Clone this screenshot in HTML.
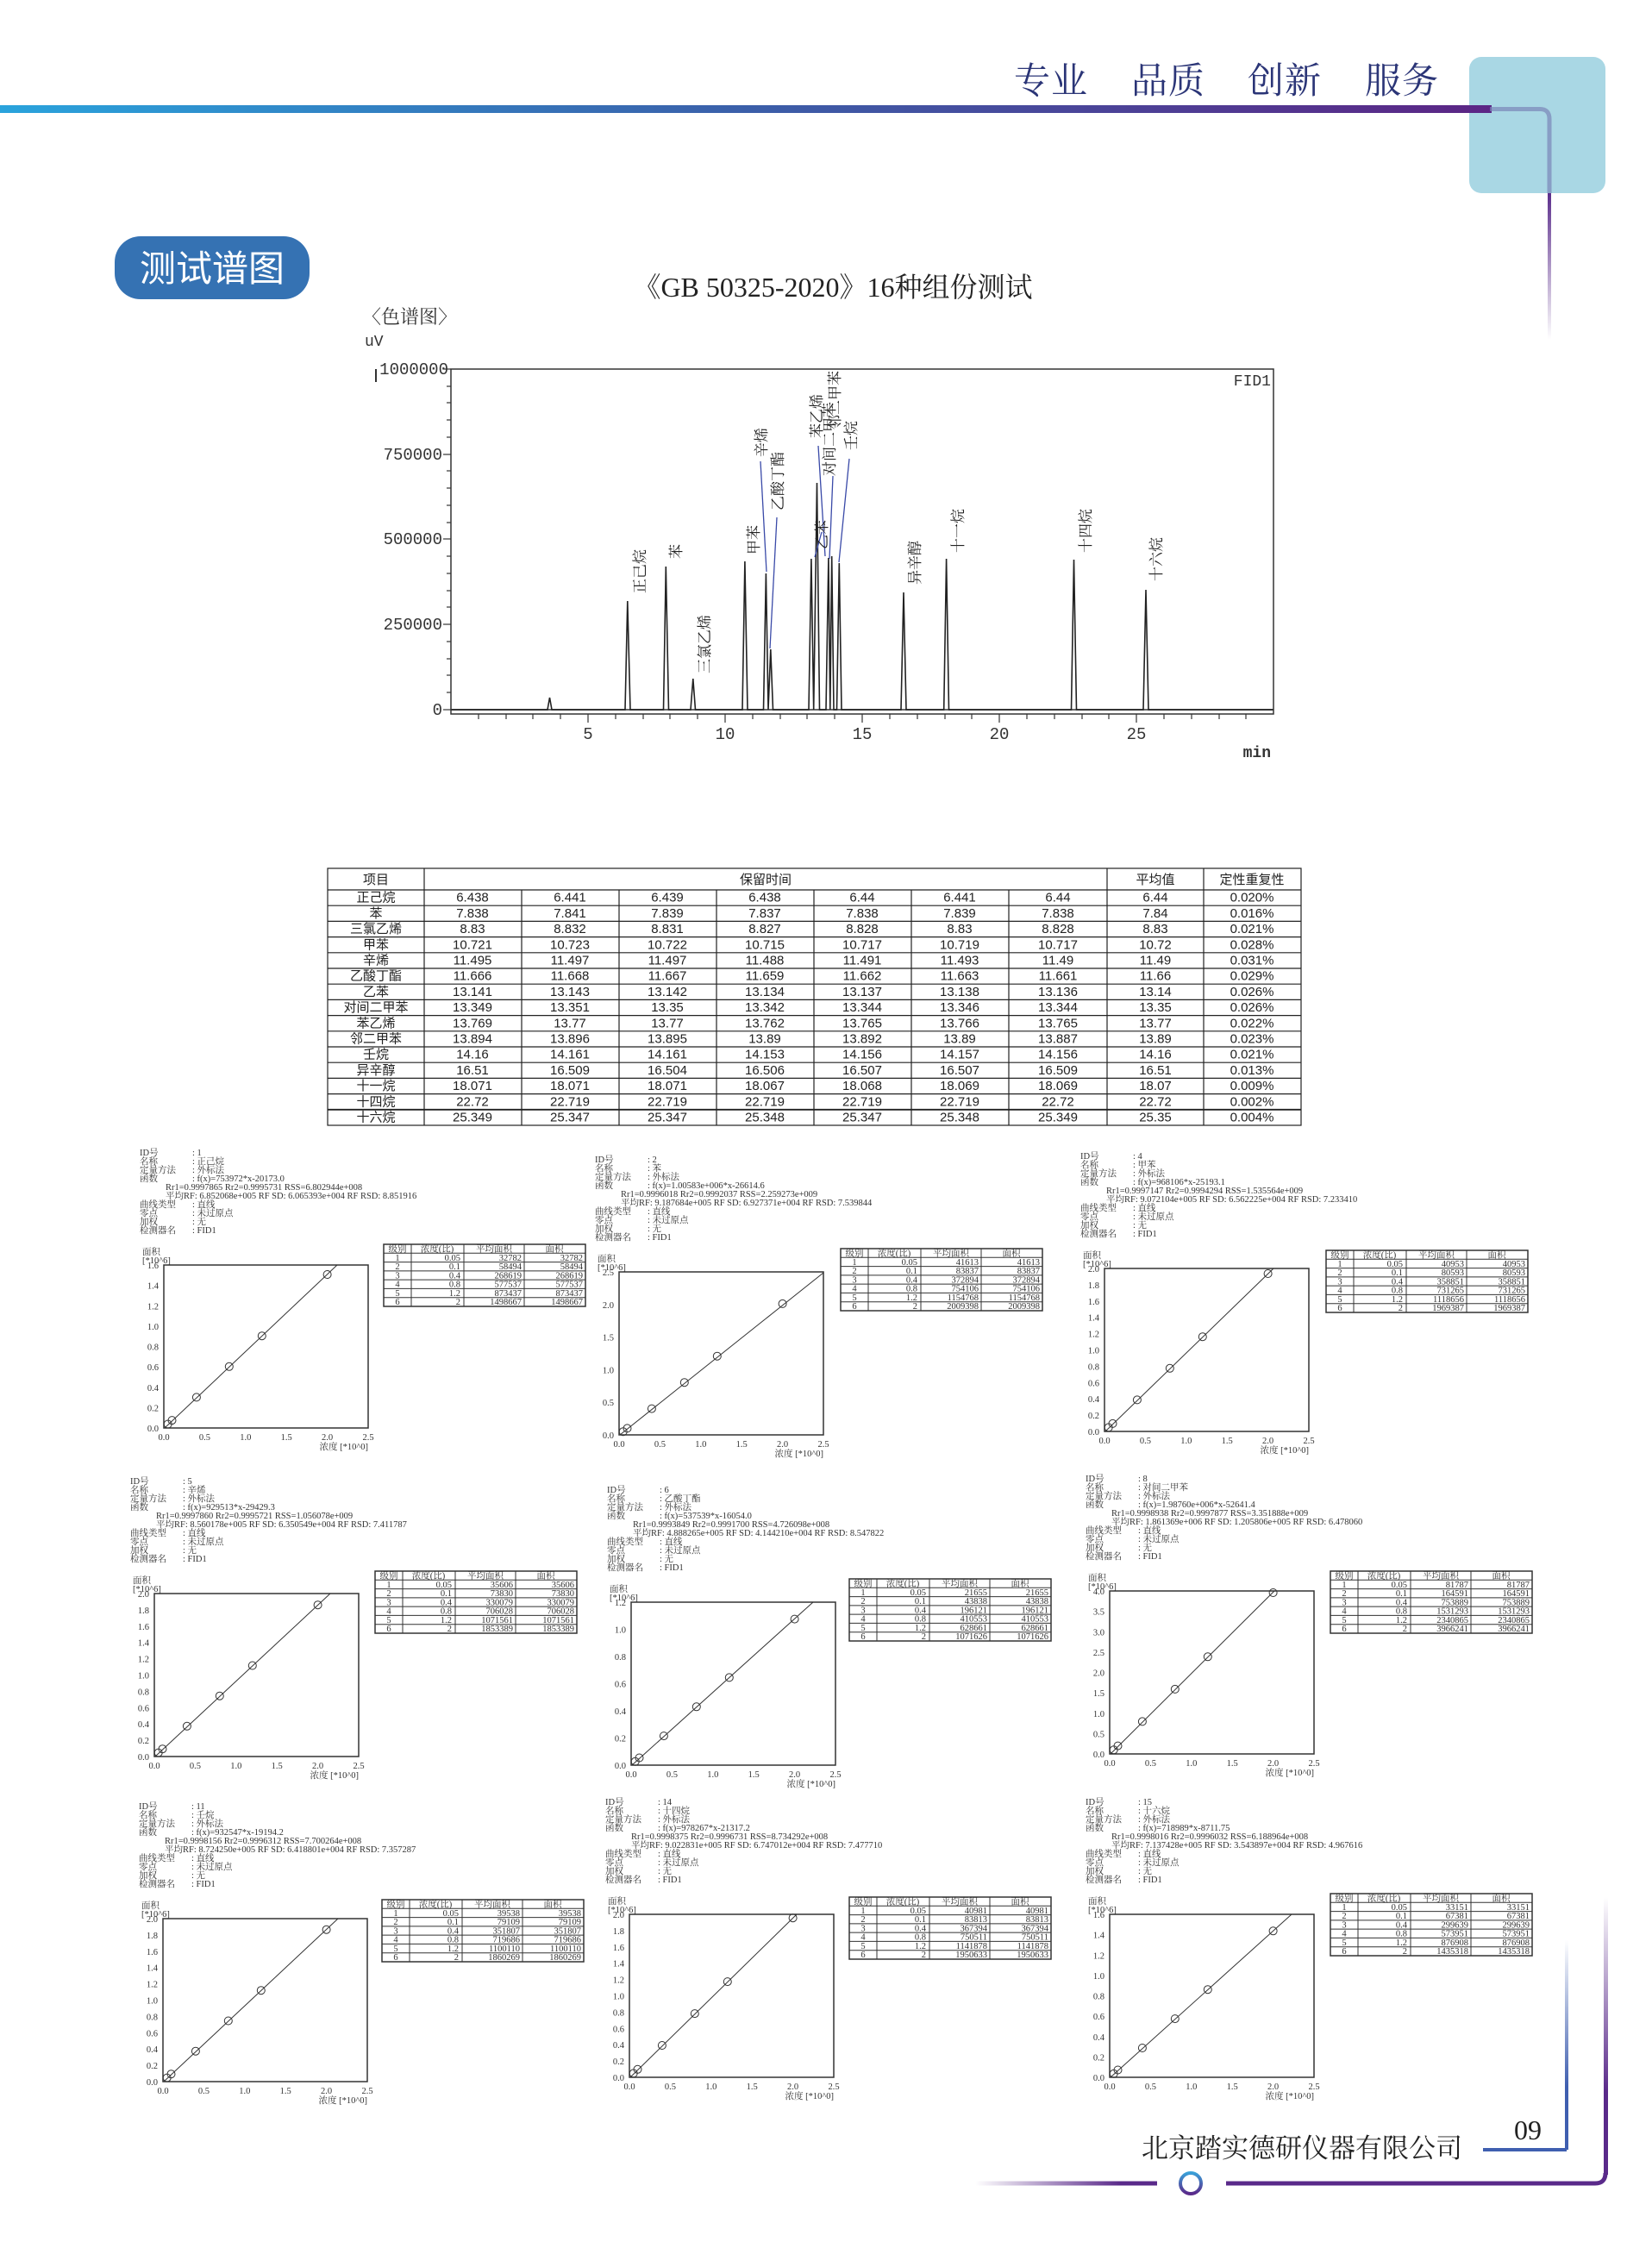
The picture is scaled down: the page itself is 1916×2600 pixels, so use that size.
<!DOCTYPE html>
<html><head><meta charset="utf-8"><style>
html,body{margin:0;padding:0;background:#fff;}
svg{display:block;}
.cj{font-family:"Liberation Serif","Noto Serif CJK SC",serif;}
.mono{font-family:"Liberation Mono","Noto Sans CJK SC",monospace;}
.pt{font-family:"Liberation Serif","Noto Serif CJK SC",serif;font-size:10.5px;fill:#333;}
.tb{font-family:"Liberation Sans","Noto Sans CJK SC",sans-serif;font-size:15px;fill:#222;}
</style></head><body>
<svg width="1916" height="2600" viewBox="0 0 1916 2600" xmlns="http://www.w3.org/2000/svg">
<defs>
<linearGradient id="hg" x1="0" x2="1" y1="0" y2="0">
<stop offset="0" stop-color="#2aa3dc"/><stop offset="0.5" stop-color="#3b5fa9"/><stop offset="1" stop-color="#5c2585"/></linearGradient>
<linearGradient id="vf" x1="0" x2="0" y1="0" y2="1"><stop offset="0" stop-color="#5c2f8c"/><stop offset="1" stop-color="#5c2f8c" stop-opacity="0"/></linearGradient>
<linearGradient id="vu" x1="0" x2="0" y1="1" y2="0"><stop offset="0.3" stop-color="#5a2a8a"/><stop offset="1" stop-color="#5a2a8a" stop-opacity="0"/></linearGradient>
<linearGradient id="vb" x1="0" x2="0" y1="1" y2="0"><stop offset="0.3" stop-color="#3f5fb0"/><stop offset="1" stop-color="#3f5fb0" stop-opacity="0"/></linearGradient>
<linearGradient id="lf" x1="0" x2="1" y1="0" y2="0"><stop offset="0" stop-color="#5a2a8a" stop-opacity="0"/><stop offset="0.8" stop-color="#5a2a8a"/></linearGradient>
<linearGradient id="cg" x1="0" x2="0" y1="0" y2="1"><stop offset="0" stop-color="#3aa0d8"/><stop offset="1" stop-color="#5a2a8a"/></linearGradient>
</defs>

<!-- header -->
<rect x="1704" y="66" width="158" height="158" rx="14" fill="#a9d7e4"/>
<rect x="0" y="122" width="1730" height="9" fill="url(#hg)"/>
<path d="M1728,126.5 H1786 Q1797,126.5 1797,138 V224" stroke="#7a86b8" stroke-width="5" fill="none" opacity="0.7"/>
<rect x="1795" y="224" width="4" height="170" fill="url(#vf)"/>
<text x="1176" y="108" class="cj" font-size="42" fill="#2b3577" letter-spacing="1">专业</text>
<text x="1312" y="108" class="cj" font-size="42" fill="#2b3577" letter-spacing="1">品质</text>
<text x="1447" y="108" class="cj" font-size="42" fill="#2b3577" letter-spacing="1">创新</text>
<text x="1583" y="108" class="cj" font-size="42" fill="#2b3577" letter-spacing="1">服务</text>

<rect x="133" y="274" width="226" height="73" rx="30" fill="#3572b3"/>
<text x="246" y="326" text-anchor="middle" font-family="Liberation Sans,Noto Sans CJK SC,sans-serif" font-size="42" fill="#fff">测试谱图</text>

<text x="966" y="344" text-anchor="middle" class="cj" font-size="32" fill="#222">《GB 50325-2020》16种组份测试</text>
<text x="420" y="375" class="cj" font-size="22" fill="#333">〈色谱图〉</text>
<text x="423" y="401" class="mono" font-size="18" fill="#333">uV</text>

<!-- chromatogram -->
<g stroke="#333" fill="none">
<rect x="523" y="428" width="954" height="400" stroke-width="1.5"/>
<line x1="523" y1="823" x2="1477" y2="823" stroke="#666" stroke-width="2"/>
<line x1="436" y1="428" x2="436" y2="443" stroke-width="2"/>
</g>
<g stroke="#333" stroke-width="1.2">
<line x1="514" y1="428" x2="523" y2="428"/><line x1="518" y1="448" x2="523" y2="448"/><line x1="518" y1="467" x2="523" y2="467"/><line x1="518" y1="487" x2="523" y2="487"/><line x1="518" y1="507" x2="523" y2="507"/><line x1="514" y1="527" x2="523" y2="527"/><line x1="518" y1="546" x2="523" y2="546"/><line x1="518" y1="566" x2="523" y2="566"/><line x1="518" y1="586" x2="523" y2="586"/><line x1="514" y1="625" x2="523" y2="625"/><line x1="518" y1="645" x2="523" y2="645"/><line x1="518" y1="665" x2="523" y2="665"/><line x1="518" y1="685" x2="523" y2="685"/><line x1="518" y1="704" x2="523" y2="704"/><line x1="514" y1="724" x2="523" y2="724"/><line x1="518" y1="744" x2="523" y2="744"/><line x1="518" y1="764" x2="523" y2="764"/><line x1="518" y1="783" x2="523" y2="783"/><line x1="518" y1="803" x2="523" y2="803"/><line x1="514" y1="823" x2="523" y2="823"/><line x1="518" y1="606" x2="523" y2="606"/>
</g>
<g stroke="#333" stroke-width="1.2">
<line x1="555" y1="828" x2="555" y2="834"/><line x1="587" y1="828" x2="587" y2="834"/><line x1="618" y1="828" x2="618" y2="834"/><line x1="650" y1="828" x2="650" y2="834"/><line x1="682" y1="828" x2="682" y2="838"/><line x1="714" y1="828" x2="714" y2="834"/><line x1="746" y1="828" x2="746" y2="834"/><line x1="777" y1="828" x2="777" y2="834"/><line x1="809" y1="828" x2="809" y2="834"/><line x1="841" y1="828" x2="841" y2="838"/><line x1="873" y1="828" x2="873" y2="834"/><line x1="905" y1="828" x2="905" y2="834"/><line x1="936" y1="828" x2="936" y2="834"/><line x1="968" y1="828" x2="968" y2="834"/><line x1="1000" y1="828" x2="1000" y2="838"/><line x1="1032" y1="828" x2="1032" y2="834"/><line x1="1064" y1="828" x2="1064" y2="834"/><line x1="1096" y1="828" x2="1096" y2="834"/><line x1="1127" y1="828" x2="1127" y2="834"/><line x1="1159" y1="828" x2="1159" y2="838"/><line x1="1191" y1="828" x2="1191" y2="834"/><line x1="1223" y1="828" x2="1223" y2="834"/><line x1="1255" y1="828" x2="1255" y2="834"/><line x1="1286" y1="828" x2="1286" y2="834"/><line x1="1318" y1="828" x2="1318" y2="838"/><line x1="1350" y1="828" x2="1350" y2="834"/><line x1="1382" y1="828" x2="1382" y2="834"/><line x1="1414" y1="828" x2="1414" y2="834"/><line x1="1445" y1="828" x2="1445" y2="834"/>
</g>
<g class="mono" font-size="19" fill="#333" text-anchor="end">
<text x="520" y="434">1000000</text><text x="513" y="533">750000</text><text x="513" y="631">500000</text><text x="513" y="730">250000</text><text x="513" y="829">0</text>
</g>
<g class="mono" font-size="19" fill="#333" text-anchor="middle">
<text x="682" y="857">5</text><text x="841" y="857">10</text><text x="1000" y="857">15</text><text x="1159" y="857">20</text><text x="1318" y="857">25</text>
</g>
<text x="1474" y="878" text-anchor="end" class="mono" font-size="18" font-weight="bold" fill="#333">min</text>
<text x="1474" y="447" text-anchor="end" class="mono" font-size="18" fill="#333">FID1</text>
<g fill="none" stroke="#222" stroke-width="1.6">
<path d="M523,823 H635 L637.5,809 L640,823 H725 L727.8,697 L731,823 H769.5 L772.3,657 L775.5,823 H801 L803.8,787 L806.5,823 H861 L863.9,651 L867,823 H885.5 L888.4,665 L891,823 L893.8,753 L896.5,823 H938 L940.9,648 L943.7,823 L947.5,560 L950.5,823 H958 L960.9,647 L962.8,823 L964.7,645 L967,823 H970.5 L973.3,653 L976,823 H1045 L1048,687 L1051,823 H1094.7 L1097.6,648 L1100.5,823 H1242.5 L1245.5,649 L1248.5,823 H1326 L1329,684 L1332,823 H1477"/>
</g>
<g stroke="#3a4aa8" stroke-width="1.3">
<line x1="882" y1="535" x2="889" y2="663"/><line x1="901" y1="600" x2="893" y2="752"/><line x1="949" y1="517" x2="957" y2="645"/><line x1="966" y1="552" x2="962" y2="648"/><line x1="985" y1="532" x2="973" y2="652"/><line x1="953" y1="617" x2="945" y2="646"/>
</g>
<g class="cj" font-size="17" fill="#222">
<text transform="translate(748,688) rotate(-90)">正己烷</text>
<text transform="translate(790,648) rotate(-90)">苯</text>
<text transform="translate(823,781) rotate(-90)">三氯乙烯</text>
<text transform="translate(880,643) rotate(-90)">甲苯</text>
<text transform="translate(889,530) rotate(-90)">辛烯</text>
<text transform="translate(908,592) rotate(-90)">乙酸丁酯</text>
<text transform="translate(959,637) rotate(-90)">乙苯</text>
<text transform="translate(953,508) rotate(-90)">苯乙烯</text>
<text transform="translate(968,552) rotate(-90)">对间二甲苯</text>
<text transform="translate(974,498) rotate(-90)">邻二甲苯</text>
<text transform="translate(993,522) rotate(-90)">壬烷</text>
<text transform="translate(1067,678) rotate(-90)">异辛醇</text>
<text transform="translate(1117,641) rotate(-90)">十一烷</text>
<text transform="translate(1265,641) rotate(-90)">十四烷</text>
<text transform="translate(1347,674) rotate(-90)">十六烷</text>
</g>

<!-- retention table -->
<g stroke="#222" stroke-width="1.2" fill="none">
<rect x="380" y="1007" width="1129" height="298"/>
<line x1="380" y1="1032" x2="1509" y2="1032"/>
<line x1="380" y1="1050.2" x2="1509" y2="1050.2"/><line x1="380" y1="1068.4" x2="1509" y2="1068.4"/><line x1="380" y1="1086.6" x2="1509" y2="1086.6"/><line x1="380" y1="1104.8" x2="1509" y2="1104.8"/><line x1="380" y1="1123" x2="1509" y2="1123"/><line x1="380" y1="1141.2" x2="1509" y2="1141.2"/><line x1="380" y1="1159.4" x2="1509" y2="1159.4"/><line x1="380" y1="1177.6" x2="1509" y2="1177.6"/><line x1="380" y1="1195.8" x2="1509" y2="1195.8"/><line x1="380" y1="1214" x2="1509" y2="1214"/><line x1="380" y1="1232.2" x2="1509" y2="1232.2"/><line x1="380" y1="1250.4" x2="1509" y2="1250.4"/><line x1="380" y1="1268.6" x2="1509" y2="1268.6"/><line x1="380" y1="1286.8" x2="1509" y2="1286.8" stroke-width="1.8"/>
<line x1="492" y1="1007" x2="492" y2="1305"/><line x1="1284" y1="1007" x2="1284" y2="1305"/><line x1="1396" y1="1007" x2="1396" y2="1305"/>
<line x1="605" y1="1032" x2="605" y2="1305"/><line x1="718" y1="1032" x2="718" y2="1305"/><line x1="831" y1="1032" x2="831" y2="1305"/><line x1="944" y1="1032" x2="944" y2="1305"/><line x1="1057" y1="1032" x2="1057" y2="1305"/><line x1="1170" y1="1032" x2="1170" y2="1305"/>
</g>
<g class="tb" text-anchor="middle">
<text x="436" y="1025">项目</text><text x="888" y="1025">保留时间</text><text x="1340" y="1025">平均值</text><text x="1452" y="1025">定性重复性</text>
</g>
<g class="tb" text-anchor="middle" font-size="14">
<text y="1045.7"><tspan x="436">正己烷</tspan><tspan x="548">6.438</tspan><tspan x="661">6.441</tspan><tspan x="774">6.439</tspan><tspan x="887">6.438</tspan><tspan x="1000">6.44</tspan><tspan x="1113">6.441</tspan><tspan x="1227">6.44</tspan><tspan x="1340">6.44</tspan><tspan x="1452">0.020%</tspan></text>
<text y="1063.9"><tspan x="436">苯</tspan><tspan x="548">7.838</tspan><tspan x="661">7.841</tspan><tspan x="774">7.839</tspan><tspan x="887">7.837</tspan><tspan x="1000">7.838</tspan><tspan x="1113">7.839</tspan><tspan x="1227">7.838</tspan><tspan x="1340">7.84</tspan><tspan x="1452">0.016%</tspan></text>
<text y="1082.1"><tspan x="436">三氯乙烯</tspan><tspan x="548">8.83</tspan><tspan x="661">8.832</tspan><tspan x="774">8.831</tspan><tspan x="887">8.827</tspan><tspan x="1000">8.828</tspan><tspan x="1113">8.83</tspan><tspan x="1227">8.828</tspan><tspan x="1340">8.83</tspan><tspan x="1452">0.021%</tspan></text>
<text y="1100.3"><tspan x="436">甲苯</tspan><tspan x="548">10.721</tspan><tspan x="661">10.723</tspan><tspan x="774">10.722</tspan><tspan x="887">10.715</tspan><tspan x="1000">10.717</tspan><tspan x="1113">10.719</tspan><tspan x="1227">10.717</tspan><tspan x="1340">10.72</tspan><tspan x="1452">0.028%</tspan></text>
<text y="1118.5"><tspan x="436">辛烯</tspan><tspan x="548">11.495</tspan><tspan x="661">11.497</tspan><tspan x="774">11.497</tspan><tspan x="887">11.488</tspan><tspan x="1000">11.491</tspan><tspan x="1113">11.493</tspan><tspan x="1227">11.49</tspan><tspan x="1340">11.49</tspan><tspan x="1452">0.031%</tspan></text>
<text y="1136.7"><tspan x="436">乙酸丁酯</tspan><tspan x="548">11.666</tspan><tspan x="661">11.668</tspan><tspan x="774">11.667</tspan><tspan x="887">11.659</tspan><tspan x="1000">11.662</tspan><tspan x="1113">11.663</tspan><tspan x="1227">11.661</tspan><tspan x="1340">11.66</tspan><tspan x="1452">0.029%</tspan></text>
<text y="1154.9"><tspan x="436">乙苯</tspan><tspan x="548">13.141</tspan><tspan x="661">13.143</tspan><tspan x="774">13.142</tspan><tspan x="887">13.134</tspan><tspan x="1000">13.137</tspan><tspan x="1113">13.138</tspan><tspan x="1227">13.136</tspan><tspan x="1340">13.14</tspan><tspan x="1452">0.026%</tspan></text>
<text y="1173.1"><tspan x="436">对间二甲苯</tspan><tspan x="548">13.349</tspan><tspan x="661">13.351</tspan><tspan x="774">13.35</tspan><tspan x="887">13.342</tspan><tspan x="1000">13.344</tspan><tspan x="1113">13.346</tspan><tspan x="1227">13.344</tspan><tspan x="1340">13.35</tspan><tspan x="1452">0.026%</tspan></text>
<text y="1191.3"><tspan x="436">苯乙烯</tspan><tspan x="548">13.769</tspan><tspan x="661">13.77</tspan><tspan x="774">13.77</tspan><tspan x="887">13.762</tspan><tspan x="1000">13.765</tspan><tspan x="1113">13.766</tspan><tspan x="1227">13.765</tspan><tspan x="1340">13.77</tspan><tspan x="1452">0.022%</tspan></text>
<text y="1209.5"><tspan x="436">邻二甲苯</tspan><tspan x="548">13.894</tspan><tspan x="661">13.896</tspan><tspan x="774">13.895</tspan><tspan x="887">13.89</tspan><tspan x="1000">13.892</tspan><tspan x="1113">13.89</tspan><tspan x="1227">13.887</tspan><tspan x="1340">13.89</tspan><tspan x="1452">0.023%</tspan></text>
<text y="1227.7"><tspan x="436">壬烷</tspan><tspan x="548">14.16</tspan><tspan x="661">14.161</tspan><tspan x="774">14.161</tspan><tspan x="887">14.153</tspan><tspan x="1000">14.156</tspan><tspan x="1113">14.157</tspan><tspan x="1227">14.156</tspan><tspan x="1340">14.16</tspan><tspan x="1452">0.021%</tspan></text>
<text y="1245.9"><tspan x="436">异辛醇</tspan><tspan x="548">16.51</tspan><tspan x="661">16.509</tspan><tspan x="774">16.504</tspan><tspan x="887">16.506</tspan><tspan x="1000">16.507</tspan><tspan x="1113">16.507</tspan><tspan x="1227">16.509</tspan><tspan x="1340">16.51</tspan><tspan x="1452">0.013%</tspan></text>
<text y="1264.1"><tspan x="436">十一烷</tspan><tspan x="548">18.071</tspan><tspan x="661">18.071</tspan><tspan x="774">18.071</tspan><tspan x="887">18.067</tspan><tspan x="1000">18.068</tspan><tspan x="1113">18.069</tspan><tspan x="1227">18.069</tspan><tspan x="1340">18.07</tspan><tspan x="1452">0.009%</tspan></text>
<text y="1282.3"><tspan x="436">十四烷</tspan><tspan x="548">22.72</tspan><tspan x="661">22.719</tspan><tspan x="774">22.719</tspan><tspan x="887">22.719</tspan><tspan x="1000">22.719</tspan><tspan x="1113">22.719</tspan><tspan x="1227">22.72</tspan><tspan x="1340">22.72</tspan><tspan x="1452">0.002%</tspan></text>
<text y="1300.5"><tspan x="436">十六烷</tspan><tspan x="548">25.349</tspan><tspan x="661">25.347</tspan><tspan x="774">25.347</tspan><tspan x="887">25.348</tspan><tspan x="1000">25.347</tspan><tspan x="1113">25.348</tspan><tspan x="1227">25.349</tspan><tspan x="1340">25.35</tspan><tspan x="1452">0.004%</tspan></text>
</g>

<!-- ============ calibration panels ============ -->
<!-- P1 -->
<g transform="translate(190,1467)">
<g class="pt"><text x="-28" y="-127">ID号</text><text x="33" y="-127">: 1</text><text x="-28" y="-117">名称</text><text x="33" y="-117">: 正己烷</text><text x="-28" y="-107">定量方法</text><text x="33" y="-107">: 外标法</text><text x="-28" y="-97">函数</text><text x="33" y="-97">: f(x)=753972*x-20173.0</text><text x="2" y="-87">Rr1=0.9997865   Rr2=0.9995731   RSS=6.802944e+008</text><text x="2" y="-77">平均RF: 6.852068e+005  RF SD: 6.065393e+004   RF RSD: 8.851916</text><text x="-28" y="-67">曲线类型</text><text x="33" y="-67">: 直线</text><text x="-28" y="-57">零点</text><text x="33" y="-57">: 未过原点</text><text x="-28" y="-47">加权</text><text x="33" y="-47">: 无</text><text x="-28" y="-37">检测器名</text><text x="33" y="-37">: FID1</text><text x="-25" y="-12">面积</text><text x="-25" y="-2">[*10^6]</text>
<g text-anchor="end"><text x="-6" y="4">1.6</text><text x="-6" y="27.6">1.4</text><text x="-6" y="51.3">1.2</text><text x="-6" y="74.9">1.0</text><text x="-6" y="98.5">0.8</text><text x="-6" y="122.1">0.6</text><text x="-6" y="145.8">0.4</text><text x="-6" y="169.4">0.2</text><text x="-6" y="193">0.0</text></g>
<g text-anchor="middle"><text x="0" y="203">0.0</text><text x="47.4" y="203">0.5</text><text x="94.8" y="203">1.0</text><text x="142.2" y="203">1.5</text><text x="189.6" y="203">2.0</text><text x="237" y="203">2.5</text></g><text x="237" y="214" text-anchor="end">浓度 [*10^0]</text></g>
<rect width="237" height="189" fill="none" stroke="#333" stroke-width="1.5"/>
<line x1="1" y1="189" x2="201" y2="0" stroke="#333"/>
<g fill="none" stroke="#333"><circle cx="4.7" cy="184.5" r="4.5"/><circle cx="9.5" cy="180.1" r="4.5"/><circle cx="37.9" cy="153.4" r="4.5"/><circle cx="75.8" cy="117.8" r="4.5"/><circle cx="113.8" cy="82.2" r="4.5"/><circle cx="189.6" cy="11" r="4.5"/></g>
<g transform="translate(255,-24)"><rect width="234" height="72" fill="none" stroke="#333" stroke-width="1.5"/><g stroke="#333" stroke-width="1"><line x1="0" y1="10.3" x2="234" y2="10.3"/><line x1="0" y1="20.6" x2="234" y2="20.6"/><line x1="0" y1="30.9" x2="234" y2="30.9"/><line x1="0" y1="41.1" x2="234" y2="41.1"/><line x1="0" y1="51.4" x2="234" y2="51.4"/><line x1="0" y1="61.7" x2="234" y2="61.7"/><line x1="32" y1="0" x2="32" y2="72"/><line x1="93" y1="0" x2="93" y2="72"/><line x1="163" y1="0" x2="163" y2="72"/></g>
<g class="pt" font-size="9.5"><g text-anchor="middle"><text x="16" y="8.5">级别</text><text x="62" y="8.5">浓度(比)</text><text x="128" y="8.5">平均面积</text><text x="198" y="8.5">面积</text><text x="16" y="19">1</text><text x="16" y="29">2</text><text x="16" y="39.5">3</text><text x="16" y="49.5">4</text><text x="16" y="60">5</text><text x="16" y="70">6</text></g>
<g text-anchor="end"><text x="89" y="19">0.05</text><text x="89" y="29">0.1</text><text x="89" y="39.5">0.4</text><text x="89" y="49.5">0.8</text><text x="89" y="60">1.2</text><text x="89" y="70">2</text>
<text x="160" y="19">32782</text><text x="160" y="29">58494</text><text x="160" y="39.5">268619</text><text x="160" y="49.5">577537</text><text x="160" y="60">873437</text><text x="160" y="70">1498667</text>
<text x="231" y="19">32782</text><text x="231" y="29">58494</text><text x="231" y="39.5">268619</text><text x="231" y="49.5">577537</text><text x="231" y="60">873437</text><text x="231" y="70">1498667</text></g></g></g>
</g>

<!-- P2 -->
<g transform="translate(718,1475)">
<g class="pt"><text x="-28" y="-127">ID号</text><text x="33" y="-127">: 2</text><text x="-28" y="-117">名称</text><text x="33" y="-117">: 苯</text><text x="-28" y="-107">定量方法</text><text x="33" y="-107">: 外标法</text><text x="-28" y="-97">函数</text><text x="33" y="-97">: f(x)=1.00583e+006*x-26614.6</text><text x="2" y="-87">Rr1=0.9996018   Rr2=0.9992037   RSS=2.259273e+009</text><text x="2" y="-77">平均RF: 9.187684e+005  RF SD: 6.927371e+004   RF RSD: 7.539844</text><text x="-28" y="-67">曲线类型</text><text x="33" y="-67">: 直线</text><text x="-28" y="-57">零点</text><text x="33" y="-57">: 未过原点</text><text x="-28" y="-47">加权</text><text x="33" y="-47">: 无</text><text x="-28" y="-37">检测器名</text><text x="33" y="-37">: FID1</text><text x="-25" y="-12">面积</text><text x="-25" y="-2">[*10^6]</text>
<g text-anchor="end"><text x="-6" y="4">2.5</text><text x="-6" y="41.8">2.0</text><text x="-6" y="79.6">1.5</text><text x="-6" y="117.4">1.0</text><text x="-6" y="155.2">0.5</text><text x="-6" y="193">0.0</text></g>
<g text-anchor="middle"><text x="0" y="203">0.0</text><text x="47.4" y="203">0.5</text><text x="94.8" y="203">1.0</text><text x="142.2" y="203">1.5</text><text x="189.6" y="203">2.0</text><text x="237" y="203">2.5</text></g><text x="237" y="214" text-anchor="end">浓度 [*10^0]</text></g>
<rect width="237" height="189" fill="none" stroke="#333" stroke-width="1.5"/>
<line x1="1" y1="189" x2="237" y2="1" stroke="#333"/>
<g fill="none" stroke="#333"><circle cx="4.7" cy="185.2" r="4.5"/><circle cx="9.5" cy="181.4" r="4.5"/><circle cx="37.9" cy="158.6" r="4.5"/><circle cx="75.8" cy="128.2" r="4.5"/><circle cx="113.8" cy="97.7" r="4.5"/><circle cx="189.6" cy="36.9" r="4.5"/></g>
<g transform="translate(257,-27)"><rect width="234" height="72" fill="none" stroke="#333" stroke-width="1.5"/><g stroke="#333" stroke-width="1"><line x1="0" y1="10.3" x2="234" y2="10.3"/><line x1="0" y1="20.6" x2="234" y2="20.6"/><line x1="0" y1="30.9" x2="234" y2="30.9"/><line x1="0" y1="41.1" x2="234" y2="41.1"/><line x1="0" y1="51.4" x2="234" y2="51.4"/><line x1="0" y1="61.7" x2="234" y2="61.7"/><line x1="32" y1="0" x2="32" y2="72"/><line x1="93" y1="0" x2="93" y2="72"/><line x1="163" y1="0" x2="163" y2="72"/></g>
<g class="pt" font-size="9.5"><g text-anchor="middle"><text x="16" y="8.5">级别</text><text x="62" y="8.5">浓度(比)</text><text x="128" y="8.5">平均面积</text><text x="198" y="8.5">面积</text><text x="16" y="19">1</text><text x="16" y="29">2</text><text x="16" y="39.5">3</text><text x="16" y="49.5">4</text><text x="16" y="60">5</text><text x="16" y="70">6</text></g>
<g text-anchor="end"><text x="89" y="19">0.05</text><text x="89" y="29">0.1</text><text x="89" y="39.5">0.4</text><text x="89" y="49.5">0.8</text><text x="89" y="60">1.2</text><text x="89" y="70">2</text>
<text x="160" y="19">41613</text><text x="160" y="29">83837</text><text x="160" y="39.5">372894</text><text x="160" y="49.5">754106</text><text x="160" y="60">1154768</text><text x="160" y="70">2009398</text>
<text x="231" y="19">41613</text><text x="231" y="29">83837</text><text x="231" y="39.5">372894</text><text x="231" y="49.5">754106</text><text x="231" y="60">1154768</text><text x="231" y="70">2009398</text></g></g></g>
</g>

<!-- P3 -->
<g transform="translate(1281,1471)">
<g class="pt"><text x="-28" y="-127">ID号</text><text x="33" y="-127">: 4</text><text x="-28" y="-117">名称</text><text x="33" y="-117">: 甲苯</text><text x="-28" y="-107">定量方法</text><text x="33" y="-107">: 外标法</text><text x="-28" y="-97">函数</text><text x="33" y="-97">: f(x)=968106*x-25193.1</text><text x="2" y="-87">Rr1=0.9997147   Rr2=0.9994294   RSS=1.535564e+009</text><text x="2" y="-77">平均RF: 9.072104e+005  RF SD: 6.562225e+004   RF RSD: 7.233410</text><text x="-28" y="-67">曲线类型</text><text x="33" y="-67">: 直线</text><text x="-28" y="-57">零点</text><text x="33" y="-57">: 未过原点</text><text x="-28" y="-47">加权</text><text x="33" y="-47">: 无</text><text x="-28" y="-37">检测器名</text><text x="33" y="-37">: FID1</text><text x="-25" y="-12">面积</text><text x="-25" y="-2">[*10^6]</text>
<g text-anchor="end"><text x="-6" y="4">2.0</text><text x="-6" y="22.9">1.8</text><text x="-6" y="41.8">1.6</text><text x="-6" y="60.7">1.4</text><text x="-6" y="79.6">1.2</text><text x="-6" y="98.5">1.0</text><text x="-6" y="117.4">0.8</text><text x="-6" y="136.3">0.6</text><text x="-6" y="155.2">0.4</text><text x="-6" y="174.1">0.2</text><text x="-6" y="193">0.0</text></g>
<g text-anchor="middle"><text x="0" y="203">0.0</text><text x="47.4" y="203">0.5</text><text x="94.8" y="203">1.0</text><text x="142.2" y="203">1.5</text><text x="189.6" y="203">2.0</text><text x="237" y="203">2.5</text></g><text x="237" y="214" text-anchor="end">浓度 [*10^0]</text></g>
<rect width="237" height="189" fill="none" stroke="#333" stroke-width="1.5"/>
<line x1="1" y1="189" x2="196" y2="0" stroke="#333"/>
<g fill="none" stroke="#333"><circle cx="4.7" cy="184.4" r="4.5"/><circle cx="9.5" cy="179.9" r="4.5"/><circle cx="37.9" cy="152.4" r="4.5"/><circle cx="75.8" cy="115.8" r="4.5"/><circle cx="113.8" cy="79.2" r="4.5"/><circle cx="189.6" cy="6" r="4.5"/></g>
<g transform="translate(257,-21)"><rect width="234" height="72" fill="none" stroke="#333" stroke-width="1.5"/><g stroke="#333" stroke-width="1"><line x1="0" y1="10.3" x2="234" y2="10.3"/><line x1="0" y1="20.6" x2="234" y2="20.6"/><line x1="0" y1="30.9" x2="234" y2="30.9"/><line x1="0" y1="41.1" x2="234" y2="41.1"/><line x1="0" y1="51.4" x2="234" y2="51.4"/><line x1="0" y1="61.7" x2="234" y2="61.7"/><line x1="32" y1="0" x2="32" y2="72"/><line x1="93" y1="0" x2="93" y2="72"/><line x1="163" y1="0" x2="163" y2="72"/></g>
<g class="pt" font-size="9.5"><g text-anchor="middle"><text x="16" y="8.5">级别</text><text x="62" y="8.5">浓度(比)</text><text x="128" y="8.5">平均面积</text><text x="198" y="8.5">面积</text><text x="16" y="19">1</text><text x="16" y="29">2</text><text x="16" y="39.5">3</text><text x="16" y="49.5">4</text><text x="16" y="60">5</text><text x="16" y="70">6</text></g>
<g text-anchor="end"><text x="89" y="19">0.05</text><text x="89" y="29">0.1</text><text x="89" y="39.5">0.4</text><text x="89" y="49.5">0.8</text><text x="89" y="60">1.2</text><text x="89" y="70">2</text>
<text x="160" y="19">40953</text><text x="160" y="29">80593</text><text x="160" y="39.5">358851</text><text x="160" y="49.5">731265</text><text x="160" y="60">1118656</text><text x="160" y="70">1969387</text>
<text x="231" y="19">40953</text><text x="231" y="29">80593</text><text x="231" y="39.5">358851</text><text x="231" y="49.5">731265</text><text x="231" y="60">1118656</text><text x="231" y="70">1969387</text></g></g></g>
</g>

<!-- P4 -->
<g transform="translate(179,1848)">
<g class="pt"><text x="-28" y="-127">ID号</text><text x="33" y="-127">: 5</text><text x="-28" y="-117">名称</text><text x="33" y="-117">: 辛烯</text><text x="-28" y="-107">定量方法</text><text x="33" y="-107">: 外标法</text><text x="-28" y="-97">函数</text><text x="33" y="-97">: f(x)=929513*x-29429.3</text><text x="2" y="-87">Rr1=0.9997860   Rr2=0.9995721   RSS=1.056078e+009</text><text x="2" y="-77">平均RF: 8.560178e+005  RF SD: 6.350549e+004   RF RSD: 7.411787</text><text x="-28" y="-67">曲线类型</text><text x="33" y="-67">: 直线</text><text x="-28" y="-57">零点</text><text x="33" y="-57">: 未过原点</text><text x="-28" y="-47">加权</text><text x="33" y="-47">: 无</text><text x="-28" y="-37">检测器名</text><text x="33" y="-37">: FID1</text><text x="-25" y="-12">面积</text><text x="-25" y="-2">[*10^6]</text>
<g text-anchor="end"><text x="-6" y="4">2.0</text><text x="-6" y="22.9">1.8</text><text x="-6" y="41.8">1.6</text><text x="-6" y="60.7">1.4</text><text x="-6" y="79.6">1.2</text><text x="-6" y="98.5">1.0</text><text x="-6" y="117.4">0.8</text><text x="-6" y="136.3">0.6</text><text x="-6" y="155.2">0.4</text><text x="-6" y="174.1">0.2</text><text x="-6" y="193">0.0</text></g>
<g text-anchor="middle"><text x="0" y="203">0.0</text><text x="47.4" y="203">0.5</text><text x="94.8" y="203">1.0</text><text x="142.2" y="203">1.5</text><text x="189.6" y="203">2.0</text><text x="237" y="203">2.5</text></g><text x="237" y="214" text-anchor="end">浓度 [*10^0]</text></g>
<rect width="237" height="189" fill="none" stroke="#333" stroke-width="1.5"/>
<line x1="1" y1="189" x2="204" y2="0" stroke="#333"/>
<g fill="none" stroke="#333"><circle cx="4.7" cy="184.6" r="4.5"/><circle cx="9.5" cy="180.2" r="4.5"/><circle cx="37.9" cy="153.8" r="4.5"/><circle cx="75.8" cy="118.7" r="4.5"/><circle cx="113.8" cy="83.5" r="4.5"/><circle cx="189.6" cy="13.2" r="4.5"/></g>
<g transform="translate(256,-26)"><rect width="234" height="72" fill="none" stroke="#333" stroke-width="1.5"/><g stroke="#333" stroke-width="1"><line x1="0" y1="10.3" x2="234" y2="10.3"/><line x1="0" y1="20.6" x2="234" y2="20.6"/><line x1="0" y1="30.9" x2="234" y2="30.9"/><line x1="0" y1="41.1" x2="234" y2="41.1"/><line x1="0" y1="51.4" x2="234" y2="51.4"/><line x1="0" y1="61.7" x2="234" y2="61.7"/><line x1="32" y1="0" x2="32" y2="72"/><line x1="93" y1="0" x2="93" y2="72"/><line x1="163" y1="0" x2="163" y2="72"/></g>
<g class="pt" font-size="9.5"><g text-anchor="middle"><text x="16" y="8.5">级别</text><text x="62" y="8.5">浓度(比)</text><text x="128" y="8.5">平均面积</text><text x="198" y="8.5">面积</text><text x="16" y="19">1</text><text x="16" y="29">2</text><text x="16" y="39.5">3</text><text x="16" y="49.5">4</text><text x="16" y="60">5</text><text x="16" y="70">6</text></g>
<g text-anchor="end"><text x="89" y="19">0.05</text><text x="89" y="29">0.1</text><text x="89" y="39.5">0.4</text><text x="89" y="49.5">0.8</text><text x="89" y="60">1.2</text><text x="89" y="70">2</text>
<text x="160" y="19">35606</text><text x="160" y="29">73830</text><text x="160" y="39.5">330079</text><text x="160" y="49.5">706028</text><text x="160" y="60">1071561</text><text x="160" y="70">1853389</text>
<text x="231" y="19">35606</text><text x="231" y="29">73830</text><text x="231" y="39.5">330079</text><text x="231" y="49.5">706028</text><text x="231" y="60">1071561</text><text x="231" y="70">1853389</text></g></g></g>
</g>

<!-- P5 -->
<g transform="translate(732,1858)">
<g class="pt"><text x="-28" y="-127">ID号</text><text x="33" y="-127">: 6</text><text x="-28" y="-117">名称</text><text x="33" y="-117">: 乙酸丁酯</text><text x="-28" y="-107">定量方法</text><text x="33" y="-107">: 外标法</text><text x="-28" y="-97">函数</text><text x="33" y="-97">: f(x)=537539*x-16054.0</text><text x="2" y="-87">Rr1=0.9993849   Rr2=0.9991700   RSS=4.726098e+008</text><text x="2" y="-77">平均RF: 4.888265e+005  RF SD: 4.144210e+004   RF RSD: 8.547822</text><text x="-28" y="-67">曲线类型</text><text x="33" y="-67">: 直线</text><text x="-28" y="-57">零点</text><text x="33" y="-57">: 未过原点</text><text x="-28" y="-47">加权</text><text x="33" y="-47">: 无</text><text x="-28" y="-37">检测器名</text><text x="33" y="-37">: FID1</text><text x="-25" y="-12">面积</text><text x="-25" y="-2">[*10^6]</text>
<g text-anchor="end"><text x="-6" y="4">1.2</text><text x="-6" y="35.5">1.0</text><text x="-6" y="67">0.8</text><text x="-6" y="98.5">0.6</text><text x="-6" y="130">0.4</text><text x="-6" y="161.5">0.2</text><text x="-6" y="193">0.0</text></g>
<g text-anchor="middle"><text x="0" y="203">0.0</text><text x="47.4" y="203">0.5</text><text x="94.8" y="203">1.0</text><text x="142.2" y="203">1.5</text><text x="189.6" y="203">2.0</text><text x="237" y="203">2.5</text></g><text x="237" y="214" text-anchor="end">浓度 [*10^0]</text></g>
<rect width="237" height="189" fill="none" stroke="#333" stroke-width="1.5"/>
<line x1="1" y1="189" x2="211" y2="0" stroke="#333"/>
<g fill="none" stroke="#333"><circle cx="4.7" cy="184.8" r="4.5"/><circle cx="9.5" cy="180.5" r="4.5"/><circle cx="37.9" cy="155.1" r="4.5"/><circle cx="75.8" cy="121.3" r="4.5"/><circle cx="113.8" cy="87.4" r="4.5"/><circle cx="189.6" cy="19.6" r="4.5"/></g>
<g transform="translate(253,-27)"><rect width="234" height="72" fill="none" stroke="#333" stroke-width="1.5"/><g stroke="#333" stroke-width="1"><line x1="0" y1="10.3" x2="234" y2="10.3"/><line x1="0" y1="20.6" x2="234" y2="20.6"/><line x1="0" y1="30.9" x2="234" y2="30.9"/><line x1="0" y1="41.1" x2="234" y2="41.1"/><line x1="0" y1="51.4" x2="234" y2="51.4"/><line x1="0" y1="61.7" x2="234" y2="61.7"/><line x1="32" y1="0" x2="32" y2="72"/><line x1="93" y1="0" x2="93" y2="72"/><line x1="163" y1="0" x2="163" y2="72"/></g>
<g class="pt" font-size="9.5"><g text-anchor="middle"><text x="16" y="8.5">级别</text><text x="62" y="8.5">浓度(比)</text><text x="128" y="8.5">平均面积</text><text x="198" y="8.5">面积</text><text x="16" y="19">1</text><text x="16" y="29">2</text><text x="16" y="39.5">3</text><text x="16" y="49.5">4</text><text x="16" y="60">5</text><text x="16" y="70">6</text></g>
<g text-anchor="end"><text x="89" y="19">0.05</text><text x="89" y="29">0.1</text><text x="89" y="39.5">0.4</text><text x="89" y="49.5">0.8</text><text x="89" y="60">1.2</text><text x="89" y="70">2</text>
<text x="160" y="19">21655</text><text x="160" y="29">43838</text><text x="160" y="39.5">196121</text><text x="160" y="49.5">410553</text><text x="160" y="60">628661</text><text x="160" y="70">1071626</text>
<text x="231" y="19">21655</text><text x="231" y="29">43838</text><text x="231" y="39.5">196121</text><text x="231" y="49.5">410553</text><text x="231" y="60">628661</text><text x="231" y="70">1071626</text></g></g></g>
</g>

<!-- P6 -->
<g transform="translate(1287,1845)">
<g class="pt"><text x="-28" y="-127">ID号</text><text x="33" y="-127">: 8</text><text x="-28" y="-117">名称</text><text x="33" y="-117">: 对间二甲苯</text><text x="-28" y="-107">定量方法</text><text x="33" y="-107">: 外标法</text><text x="-28" y="-97">函数</text><text x="33" y="-97">: f(x)=1.98760e+006*x-52641.4</text><text x="2" y="-87">Rr1=0.9998938   Rr2=0.9997877   RSS=3.351888e+009</text><text x="2" y="-77">平均RF: 1.861369e+006  RF SD: 1.205806e+005   RF RSD: 6.478060</text><text x="-28" y="-67">曲线类型</text><text x="33" y="-67">: 直线</text><text x="-28" y="-57">零点</text><text x="33" y="-57">: 未过原点</text><text x="-28" y="-47">加权</text><text x="33" y="-47">: 无</text><text x="-28" y="-37">检测器名</text><text x="33" y="-37">: FID1</text><text x="-25" y="-12">面积</text><text x="-25" y="-2">[*10^6]</text>
<g text-anchor="end"><text x="-6" y="4">4.0</text><text x="-6" y="27.6">3.5</text><text x="-6" y="51.3">3.0</text><text x="-6" y="74.9">2.5</text><text x="-6" y="98.5">2.0</text><text x="-6" y="122.1">1.5</text><text x="-6" y="145.8">1.0</text><text x="-6" y="169.4">0.5</text><text x="-6" y="193">0.0</text></g>
<g text-anchor="middle"><text x="0" y="203">0.0</text><text x="47.4" y="203">0.5</text><text x="94.8" y="203">1.0</text><text x="142.2" y="203">1.5</text><text x="189.6" y="203">2.0</text><text x="237" y="203">2.5</text></g><text x="237" y="214" text-anchor="end">浓度 [*10^0]</text></g>
<rect width="237" height="189" fill="none" stroke="#333" stroke-width="1.5"/>
<line x1="1" y1="189" x2="191" y2="0" stroke="#333"/>
<g fill="none" stroke="#333"><circle cx="4.7" cy="184.3" r="4.5"/><circle cx="9.5" cy="179.6" r="4.5"/><circle cx="37.9" cy="151.4" r="4.5"/><circle cx="75.8" cy="113.9" r="4.5"/><circle cx="113.8" cy="76.3" r="4.5"/><circle cx="189.6" cy="2" r="4.5"/></g>
<g transform="translate(256,-23)"><rect width="234" height="72" fill="none" stroke="#333" stroke-width="1.5"/><g stroke="#333" stroke-width="1"><line x1="0" y1="10.3" x2="234" y2="10.3"/><line x1="0" y1="20.6" x2="234" y2="20.6"/><line x1="0" y1="30.9" x2="234" y2="30.9"/><line x1="0" y1="41.1" x2="234" y2="41.1"/><line x1="0" y1="51.4" x2="234" y2="51.4"/><line x1="0" y1="61.7" x2="234" y2="61.7"/><line x1="32" y1="0" x2="32" y2="72"/><line x1="93" y1="0" x2="93" y2="72"/><line x1="163" y1="0" x2="163" y2="72"/></g>
<g class="pt" font-size="9.5"><g text-anchor="middle"><text x="16" y="8.5">级别</text><text x="62" y="8.5">浓度(比)</text><text x="128" y="8.5">平均面积</text><text x="198" y="8.5">面积</text><text x="16" y="19">1</text><text x="16" y="29">2</text><text x="16" y="39.5">3</text><text x="16" y="49.5">4</text><text x="16" y="60">5</text><text x="16" y="70">6</text></g>
<g text-anchor="end"><text x="89" y="19">0.05</text><text x="89" y="29">0.1</text><text x="89" y="39.5">0.4</text><text x="89" y="49.5">0.8</text><text x="89" y="60">1.2</text><text x="89" y="70">2</text>
<text x="160" y="19">81787</text><text x="160" y="29">164591</text><text x="160" y="39.5">753889</text><text x="160" y="49.5">1531293</text><text x="160" y="60">2340865</text><text x="160" y="70">3966241</text>
<text x="231" y="19">81787</text><text x="231" y="29">164591</text><text x="231" y="39.5">753889</text><text x="231" y="49.5">1531293</text><text x="231" y="60">2340865</text><text x="231" y="70">3966241</text></g></g></g>
</g>

<!-- P7 -->
<g transform="translate(189,2225)">
<g class="pt"><text x="-28" y="-127">ID号</text><text x="33" y="-127">: 11</text><text x="-28" y="-117">名称</text><text x="33" y="-117">: 壬烷</text><text x="-28" y="-107">定量方法</text><text x="33" y="-107">: 外标法</text><text x="-28" y="-97">函数</text><text x="33" y="-97">: f(x)=932547*x-19194.2</text><text x="2" y="-87">Rr1=0.9998156   Rr2=0.9996312   RSS=7.700264e+008</text><text x="2" y="-77">平均RF: 8.724250e+005  RF SD: 6.418801e+004   RF RSD: 7.357287</text><text x="-28" y="-67">曲线类型</text><text x="33" y="-67">: 直线</text><text x="-28" y="-57">零点</text><text x="33" y="-57">: 未过原点</text><text x="-28" y="-47">加权</text><text x="33" y="-47">: 无</text><text x="-28" y="-37">检测器名</text><text x="33" y="-37">: FID1</text><text x="-25" y="-12">面积</text><text x="-25" y="-2">[*10^6]</text>
<g text-anchor="end"><text x="-6" y="4">2.0</text><text x="-6" y="22.9">1.8</text><text x="-6" y="41.8">1.6</text><text x="-6" y="60.7">1.4</text><text x="-6" y="79.6">1.2</text><text x="-6" y="98.5">1.0</text><text x="-6" y="117.4">0.8</text><text x="-6" y="136.3">0.6</text><text x="-6" y="155.2">0.4</text><text x="-6" y="174.1">0.2</text><text x="-6" y="193">0.0</text></g>
<g text-anchor="middle"><text x="0" y="203">0.0</text><text x="47.4" y="203">0.5</text><text x="94.8" y="203">1.0</text><text x="142.2" y="203">1.5</text><text x="189.6" y="203">2.0</text><text x="237" y="203">2.5</text></g><text x="237" y="214" text-anchor="end">浓度 [*10^0]</text></g>
<rect width="237" height="189" fill="none" stroke="#333" stroke-width="1.5"/>
<line x1="1" y1="189" x2="203" y2="0" stroke="#333"/>
<g fill="none" stroke="#333"><circle cx="4.7" cy="184.6" r="4.5"/><circle cx="9.5" cy="180.2" r="4.5"/><circle cx="37.9" cy="153.7" r="4.5"/><circle cx="75.8" cy="118.5" r="4.5"/><circle cx="113.8" cy="83.2" r="4.5"/><circle cx="189.6" cy="12.7" r="4.5"/></g>
<g transform="translate(254,-22)"><rect width="234" height="72" fill="none" stroke="#333" stroke-width="1.5"/><g stroke="#333" stroke-width="1"><line x1="0" y1="10.3" x2="234" y2="10.3"/><line x1="0" y1="20.6" x2="234" y2="20.6"/><line x1="0" y1="30.9" x2="234" y2="30.9"/><line x1="0" y1="41.1" x2="234" y2="41.1"/><line x1="0" y1="51.4" x2="234" y2="51.4"/><line x1="0" y1="61.7" x2="234" y2="61.7"/><line x1="32" y1="0" x2="32" y2="72"/><line x1="93" y1="0" x2="93" y2="72"/><line x1="163" y1="0" x2="163" y2="72"/></g>
<g class="pt" font-size="9.5"><g text-anchor="middle"><text x="16" y="8.5">级别</text><text x="62" y="8.5">浓度(比)</text><text x="128" y="8.5">平均面积</text><text x="198" y="8.5">面积</text><text x="16" y="19">1</text><text x="16" y="29">2</text><text x="16" y="39.5">3</text><text x="16" y="49.5">4</text><text x="16" y="60">5</text><text x="16" y="70">6</text></g>
<g text-anchor="end"><text x="89" y="19">0.05</text><text x="89" y="29">0.1</text><text x="89" y="39.5">0.4</text><text x="89" y="49.5">0.8</text><text x="89" y="60">1.2</text><text x="89" y="70">2</text>
<text x="160" y="19">39538</text><text x="160" y="29">79109</text><text x="160" y="39.5">351807</text><text x="160" y="49.5">719686</text><text x="160" y="60">1100110</text><text x="160" y="70">1860269</text>
<text x="231" y="19">39538</text><text x="231" y="29">79109</text><text x="231" y="39.5">351807</text><text x="231" y="49.5">719686</text><text x="231" y="60">1100110</text><text x="231" y="70">1860269</text></g></g></g>
</g>

<!-- P8 -->
<g transform="translate(730,2220)">
<g class="pt"><text x="-28" y="-127">ID号</text><text x="33" y="-127">: 14</text><text x="-28" y="-117">名称</text><text x="33" y="-117">: 十四烷</text><text x="-28" y="-107">定量方法</text><text x="33" y="-107">: 外标法</text><text x="-28" y="-97">函数</text><text x="33" y="-97">: f(x)=978267*x-21317.2</text><text x="2" y="-87">Rr1=0.9998375   Rr2=0.9996731   RSS=8.734292e+008</text><text x="2" y="-77">平均RF: 9.022831e+005  RF SD: 6.747012e+004   RF RSD: 7.477710</text><text x="-28" y="-67">曲线类型</text><text x="33" y="-67">: 直线</text><text x="-28" y="-57">零点</text><text x="33" y="-57">: 未过原点</text><text x="-28" y="-47">加权</text><text x="33" y="-47">: 无</text><text x="-28" y="-37">检测器名</text><text x="33" y="-37">: FID1</text><text x="-25" y="-12">面积</text><text x="-25" y="-2">[*10^6]</text>
<g text-anchor="end"><text x="-6" y="4">2.0</text><text x="-6" y="22.9">1.8</text><text x="-6" y="41.8">1.6</text><text x="-6" y="60.7">1.4</text><text x="-6" y="79.6">1.2</text><text x="-6" y="98.5">1.0</text><text x="-6" y="117.4">0.8</text><text x="-6" y="136.3">0.6</text><text x="-6" y="155.2">0.4</text><text x="-6" y="174.1">0.2</text><text x="-6" y="193">0.0</text></g>
<g text-anchor="middle"><text x="0" y="203">0.0</text><text x="47.4" y="203">0.5</text><text x="94.8" y="203">1.0</text><text x="142.2" y="203">1.5</text><text x="189.6" y="203">2.0</text><text x="237" y="203">2.5</text></g><text x="237" y="214" text-anchor="end">浓度 [*10^0]</text></g>
<rect width="237" height="189" fill="none" stroke="#333" stroke-width="1.5"/>
<line x1="1" y1="189" x2="194" y2="0" stroke="#333"/>
<g fill="none" stroke="#333"><circle cx="4.7" cy="184.4" r="4.5"/><circle cx="9.5" cy="179.8" r="4.5"/><circle cx="37.9" cy="152" r="4.5"/><circle cx="75.8" cy="115.1" r="4.5"/><circle cx="113.8" cy="78.1" r="4.5"/><circle cx="189.6" cy="4.2" r="4.5"/></g>
<g transform="translate(255,-20)"><rect width="234" height="72" fill="none" stroke="#333" stroke-width="1.5"/><g stroke="#333" stroke-width="1"><line x1="0" y1="10.3" x2="234" y2="10.3"/><line x1="0" y1="20.6" x2="234" y2="20.6"/><line x1="0" y1="30.9" x2="234" y2="30.9"/><line x1="0" y1="41.1" x2="234" y2="41.1"/><line x1="0" y1="51.4" x2="234" y2="51.4"/><line x1="0" y1="61.7" x2="234" y2="61.7"/><line x1="32" y1="0" x2="32" y2="72"/><line x1="93" y1="0" x2="93" y2="72"/><line x1="163" y1="0" x2="163" y2="72"/></g>
<g class="pt" font-size="9.5"><g text-anchor="middle"><text x="16" y="8.5">级别</text><text x="62" y="8.5">浓度(比)</text><text x="128" y="8.5">平均面积</text><text x="198" y="8.5">面积</text><text x="16" y="19">1</text><text x="16" y="29">2</text><text x="16" y="39.5">3</text><text x="16" y="49.5">4</text><text x="16" y="60">5</text><text x="16" y="70">6</text></g>
<g text-anchor="end"><text x="89" y="19">0.05</text><text x="89" y="29">0.1</text><text x="89" y="39.5">0.4</text><text x="89" y="49.5">0.8</text><text x="89" y="60">1.2</text><text x="89" y="70">2</text>
<text x="160" y="19">40981</text><text x="160" y="29">83813</text><text x="160" y="39.5">367394</text><text x="160" y="49.5">750511</text><text x="160" y="60">1141878</text><text x="160" y="70">1950633</text>
<text x="231" y="19">40981</text><text x="231" y="29">83813</text><text x="231" y="39.5">367394</text><text x="231" y="49.5">750511</text><text x="231" y="60">1141878</text><text x="231" y="70">1950633</text></g></g></g>
</g>

<!-- P9 -->
<g transform="translate(1287,2220)">
<g class="pt"><text x="-28" y="-127">ID号</text><text x="33" y="-127">: 15</text><text x="-28" y="-117">名称</text><text x="33" y="-117">: 十六烷</text><text x="-28" y="-107">定量方法</text><text x="33" y="-107">: 外标法</text><text x="-28" y="-97">函数</text><text x="33" y="-97">: f(x)=718989*x-8711.75</text><text x="2" y="-87">Rr1=0.9998016   Rr2=0.9996032   RSS=6.188964e+008</text><text x="2" y="-77">平均RF: 7.137428e+005  RF SD: 3.543897e+004   RF RSD: 4.967616</text><text x="-28" y="-67">曲线类型</text><text x="33" y="-67">: 直线</text><text x="-28" y="-57">零点</text><text x="33" y="-57">: 未过原点</text><text x="-28" y="-47">加权</text><text x="33" y="-47">: 无</text><text x="-28" y="-37">检测器名</text><text x="33" y="-37">: FID1</text><text x="-25" y="-12">面积</text><text x="-25" y="-2">[*10^6]</text>
<g text-anchor="end"><text x="-6" y="4">1.6</text><text x="-6" y="27.6">1.4</text><text x="-6" y="51.3">1.2</text><text x="-6" y="74.9">1.0</text><text x="-6" y="98.5">0.8</text><text x="-6" y="122.1">0.6</text><text x="-6" y="145.8">0.4</text><text x="-6" y="169.4">0.2</text><text x="-6" y="193">0.0</text></g>
<g text-anchor="middle"><text x="0" y="203">0.0</text><text x="47.4" y="203">0.5</text><text x="94.8" y="203">1.0</text><text x="142.2" y="203">1.5</text><text x="189.6" y="203">2.0</text><text x="237" y="203">2.5</text></g><text x="237" y="214" text-anchor="end">浓度 [*10^0]</text></g>
<rect width="237" height="189" fill="none" stroke="#333" stroke-width="1.5"/>
<line x1="1" y1="189" x2="211" y2="0" stroke="#333"/>
<g fill="none" stroke="#333"><circle cx="4.7" cy="184.8" r="4.5"/><circle cx="9.5" cy="180.5" r="4.5"/><circle cx="37.9" cy="155" r="4.5"/><circle cx="75.8" cy="121.1" r="4.5"/><circle cx="113.8" cy="87.2" r="4.5"/><circle cx="189.6" cy="19.3" r="4.5"/></g>
<g transform="translate(256,-24)"><rect width="234" height="72" fill="none" stroke="#333" stroke-width="1.5"/><g stroke="#333" stroke-width="1"><line x1="0" y1="10.3" x2="234" y2="10.3"/><line x1="0" y1="20.6" x2="234" y2="20.6"/><line x1="0" y1="30.9" x2="234" y2="30.9"/><line x1="0" y1="41.1" x2="234" y2="41.1"/><line x1="0" y1="51.4" x2="234" y2="51.4"/><line x1="0" y1="61.7" x2="234" y2="61.7"/><line x1="32" y1="0" x2="32" y2="72"/><line x1="93" y1="0" x2="93" y2="72"/><line x1="163" y1="0" x2="163" y2="72"/></g>
<g class="pt" font-size="9.5"><g text-anchor="middle"><text x="16" y="8.5">级别</text><text x="62" y="8.5">浓度(比)</text><text x="128" y="8.5">平均面积</text><text x="198" y="8.5">面积</text><text x="16" y="19">1</text><text x="16" y="29">2</text><text x="16" y="39.5">3</text><text x="16" y="49.5">4</text><text x="16" y="60">5</text><text x="16" y="70">6</text></g>
<g text-anchor="end"><text x="89" y="19">0.05</text><text x="89" y="29">0.1</text><text x="89" y="39.5">0.4</text><text x="89" y="49.5">0.8</text><text x="89" y="60">1.2</text><text x="89" y="70">2</text>
<text x="160" y="19">33151</text><text x="160" y="29">67381</text><text x="160" y="39.5">299639</text><text x="160" y="49.5">573951</text><text x="160" y="60">876908</text><text x="160" y="70">1435318</text>
<text x="231" y="19">33151</text><text x="231" y="29">67381</text><text x="231" y="39.5">299639</text><text x="231" y="49.5">573951</text><text x="231" y="60">876908</text><text x="231" y="70">1435318</text></g></g></g>
</g>

<!-- footer -->
<rect x="1815" y="2250" width="4" height="243" fill="url(#vb)"/>
<path d="M1720,2493 H1817" stroke="#3f5fb0" stroke-width="4" fill="none"/>
<rect x="1860" y="2200" width="5" height="322" fill="url(#vu)"/>
<path d="M1422,2532 H1850 Q1862,2532 1862,2520" stroke="#5a2a8a" stroke-width="5" fill="none"/>
<rect x="1131" y="2529.5" width="211" height="5" fill="url(#lf)"/>
<ellipse cx="1381" cy="2532" rx="12" ry="12" fill="none" stroke="url(#cg)" stroke-width="4"/>
<text x="1324" y="2502" class="cj" font-size="31" fill="#222">北京踏实德研仪器有限公司</text>
<text x="1756" y="2481" class="cj" font-size="32" fill="#222">09</text>
</svg>
</body></html>
